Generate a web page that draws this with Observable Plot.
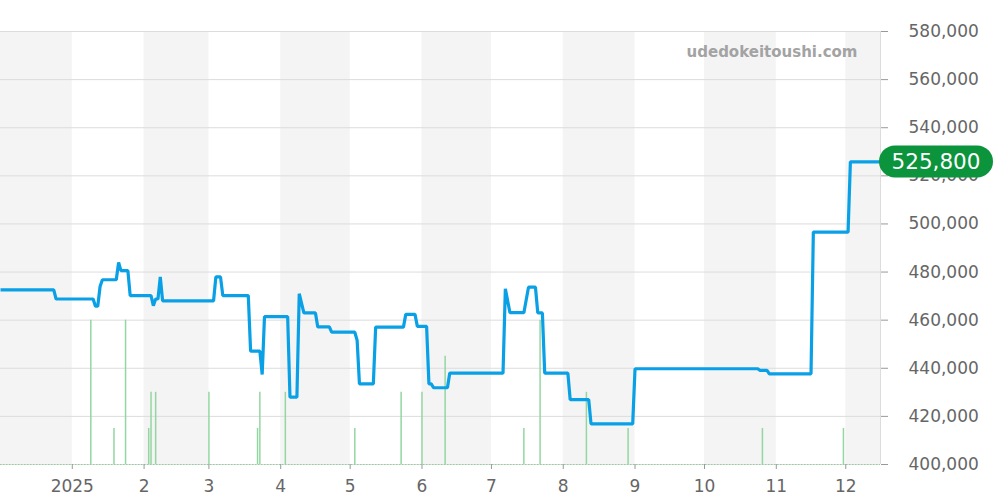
<!DOCTYPE html>
<html><head><meta charset="utf-8">
<script src="https://cdn.jsdelivr.net/npm/d3@7"></script>
<script src="https://cdn.jsdelivr.net/npm/@observablehq/plot@0.6"></script>
<style>
body{margin:0;background:#fff;font-family:"DejaVu Sans",sans-serif;}
#chart{width:1000px;height:500px;}
</style></head><body><div id="chart"></div>
<script>
// ---- data ----
const priceDates = ["2024-12-01","2024-12-24","2024-12-25","2025-01-10","2025-01-11","2025-01-12","2025-01-13","2025-01-14","2025-01-20","2025-01-21","2025-01-22","2025-01-25","2025-01-26","2025-02-04","2025-02-05","2025-02-06","2025-02-07","2025-02-08","2025-02-09","2025-03-03","2025-03-04","2025-03-06","2025-03-07","2025-03-18","2025-03-19","2025-03-23","2025-03-24","2025-03-25","2025-04-04","2025-04-05","2025-04-08","2025-04-09","2025-04-11","2025-04-16","2025-04-17","2025-04-22","2025-04-23","2025-05-03","2025-05-04","2025-05-05","2025-05-11","2025-05-12","2025-05-24","2025-05-25","2025-05-29","2025-05-30","2025-06-03","2025-06-04","2025-06-05","2025-06-06","2025-06-12","2025-06-13","2025-07-06","2025-07-07","2025-07-09","2025-07-15","2025-07-17","2025-07-20","2025-07-21","2025-07-23","2025-07-24","2025-08-03","2025-08-04","2025-08-12","2025-08-13","2025-08-31","2025-09-01","2025-10-24","2025-10-25","2025-10-28","2025-10-29","2025-11-16","2025-11-17","2025-12-02","2025-12-03","2025-12-16"];
const priceValues = [472600,472600,468800,468800,465800,465800,474000,476800,476800,484000,480600,480600,470200,470200,466000,468800,468800,478000,468000,468000,478000,478000,470200,470200,447100,447100,437400,461500,461500,428000,428000,471000,463000,463000,457200,457200,455000,455000,451600,433500,433500,457100,457100,462400,462400,457400,457400,433500,433500,431900,431900,438000,438000,473000,463100,463100,473700,473700,463000,463000,438000,438000,427000,427000,416900,416900,439800,439800,439100,439100,437700,437700,496600,496600,525800,525800];

const volumeDates = ["2025-01-09","2025-01-19","2025-01-24","2025-02-03","2025-02-04","2025-02-06","2025-03-01","2025-03-22","2025-03-23","2025-04-03","2025-05-03","2025-05-23","2025-06-01","2025-06-11","2025-07-15","2025-07-22","2025-08-11","2025-08-29","2025-10-26","2025-11-30"];
const volumeCounts = [4,1,4,1,2,2,2,1,2,2,1,2,2,3,1,4,2,1,1,1];

const shadedMonths = ["2024-12-01","2025-02-01","2025-04-01","2025-06-01","2025-08-01","2025-10-01","2025-12-01"];
const yTicks = [400000,420000,440000,460000,480000,500000,520000,540000,560000,580000];
const xTickDates = ["2025-01-01","2025-02-01","2025-03-01","2025-04-01","2025-05-01","2025-06-01","2025-07-01","2025-08-01","2025-09-01","2025-10-01","2025-11-01","2025-12-01"];
const xTickLabels = ["2025","2","3","4","5","6","7","8","9","10","11","12"];
const xStart = "2024-12-01", xEnd = "2025-12-16";
const yMin = 400000, yMax = 580000;
const volumeUnit = 15000; // price-axis units per traded item
const lastLabel = "525,800";
const watermark = "udedokeitoushi.com";

// ---- build ----
const parse = d3.utcParse("%Y-%m-%d");
const price = priceDates.map((d, i) => ({date: parse(d), value: priceValues[i]}));
const vol = volumeDates.map((d, i) => ({date: parse(d), count: volumeCounts[i]}));
const bands = shadedMonths.map(d => ({start: parse(d), end: d3.utcMonth.offset(parse(d), 1)}));
const xTicks = xTickDates.map(parse);
const labelMap = new Map(xTicks.map((d, i) => [+d, xTickLabels[i]]));
const xDomain = [parse(xStart), parse(xEnd)];

const plot = Plot.plot({
  width: 1000, height: 500,
  marginLeft: 0, marginRight: 120, marginTop: 31, marginBottom: 36,
  style: {fontFamily: "DejaVu Sans, sans-serif", fontSize: "17px", color: "#666", background: "#fff", overflow: "visible"},
  x: {type: "utc", domain: xDomain, label: null},
  y: {domain: [yMin, yMax], label: null},
  marks: [
    Plot.rect(bands, {x1: "start", x2: "end", fill: "#f4f4f4", clip: true}),
    Plot.gridY(yTicks, {stroke: "#dcdcdc", strokeOpacity: 1}),
    Plot.ruleX([xDomain[1]], {stroke: "#dcdcdc"}),
    Plot.ruleY([yMin], {stroke: "#8fd19e", strokeDasharray: "1.5,1.5", strokeWidth: 1.2}),
    Plot.ruleX(vol, {x: "date", y1: () => yMin, y2: d => yMin + d.count * volumeUnit, stroke: "#94d6a2", strokeWidth: 1.5}),
    Plot.line(price, {x: "date", y: "value", stroke: "#0aa0e6", strokeWidth: 3.2, strokeLinejoin: "miter", strokeLinecap: "butt"}),
    Plot.axisY(yTicks, {anchor: "right", label: null, tickFormat: d3.format(","), tickSize: 7, tickPadding: 21, textAnchor: "start", fontSize: 17, fill: "#666", stroke: "#999"}),
    Plot.axisX(xTicks, {anchor: "bottom", label: null, tickFormat: d => labelMap.get(+d), tickSize: 5, tickPadding: 10, fontSize: 17, fill: "#666", stroke: "#999"}),
    Plot.text([watermark], {frameAnchor: "top-right", dx: -23, dy: 21, lineAnchor: "middle", textAnchor: "end", fontSize: 15, fontWeight: "bold", fill: "#a3a3a3"})
  ]
});

// badge for latest value, positioned with the plot's own scales
const svg = d3.select(plot);
const ys = plot.scale("y"), xs = plot.scale("x");
const last = price[price.length - 1];
const by = ys.apply(last.value);
const bx = xs.apply(xDomain[1]);
const g = svg.append("g");
g.append("rect").attr("x", bx - 1).attr("y", by - 16).attr("width", 114).attr("height", 32).attr("rx", 16).attr("fill", "#0b943c");
g.append("text").attr("x", bx + 56).attr("y", by).attr("dy", "0.35em").attr("text-anchor", "middle")
  .attr("fill", "#fff").attr("font-size", 21.5).attr("font-family", "DejaVu Sans, sans-serif").text(lastLabel);

document.getElementById("chart").appendChild(plot);
</script>
</body></html>
